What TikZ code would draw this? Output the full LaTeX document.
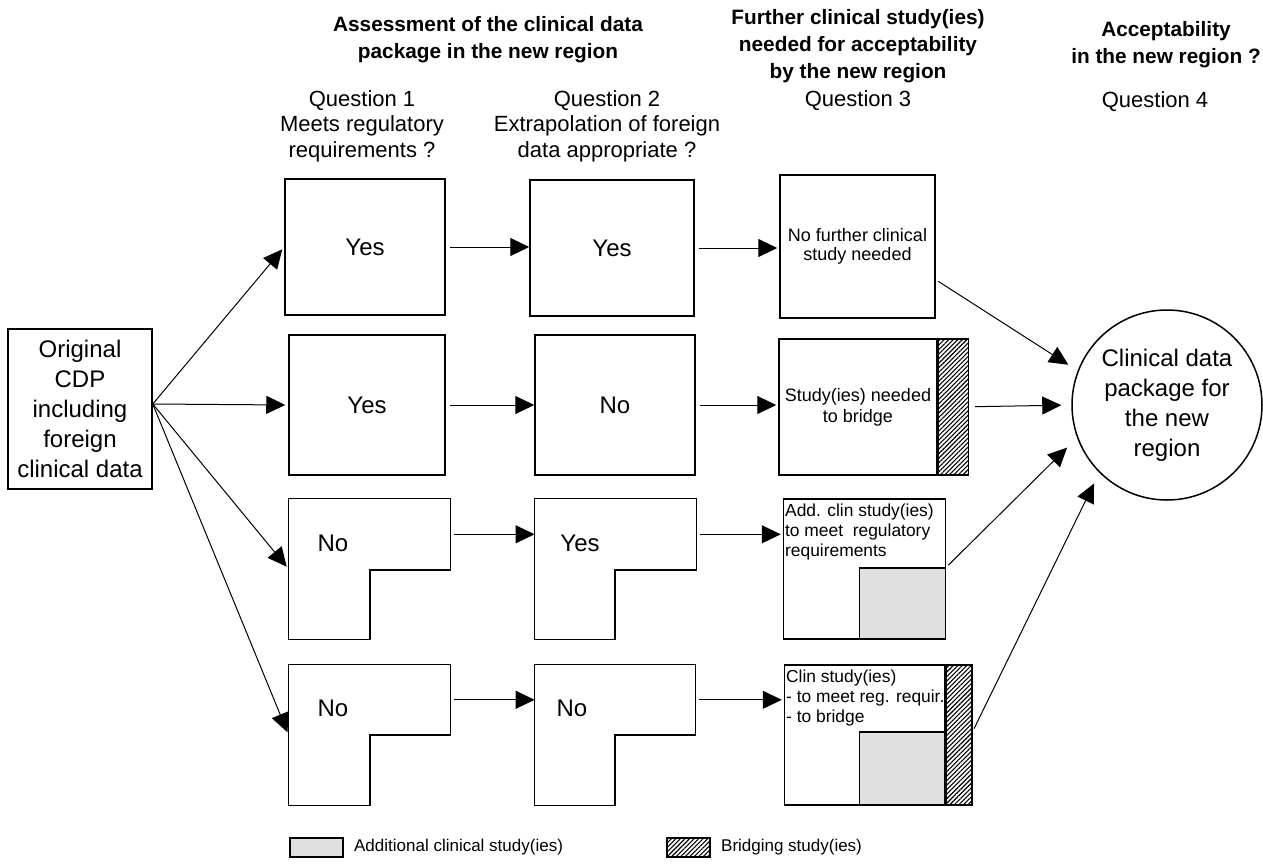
\documentclass[tikz,border=0pt]{standalone}
\usepackage{fontspec}
\setmainfont{Liberation Sans}
\usetikzlibrary{calc, positioning, arrows.meta, patterns.meta}

\definecolor{addgray}{gray}{0.88}

\tikzset{
    box/.style 2 args={
        draw, line width=0.75pt,
        minimum width=#1, minimum height=#2,
        inner sep=0pt, align=center,
        font=\fontsize{12}{15}\selectfont
    },
    lbox/.style 2 args={minimum width=#1, minimum height=#2, inner sep=0pt},
    outline/.style={line width=0.75pt, line join=miter},
    addbox/.style={draw, line width=0.75pt, fill=addgray, inner sep=0pt},
    bridgebox/.style={
        draw, line width=0.75pt, inner sep=0pt,
        pattern={Lines[angle=45, distance=1.6pt, line width=0.55pt]}
    },
    answer/.style={inner sep=0pt, font=\fontsize{12}{15}\selectfont},
    heading/.style={inner sep=0pt, align=center, font=\bfseries\fontsize{10.4}{13.5}\selectfont},
    question/.style={inner sep=0pt, align=center, font=\fontsize{11}{12.75}\selectfont},
    note/.style={inner sep=0pt, align=left, font=\fontsize{8.7}{10}\selectfont},
    legend/.style={inner sep=0pt, font=\fontsize{8.5}{10}\selectfont},
    link/.style={line width=0.5pt, -{Triangle[length=9.5pt, width=9pt]}},
}

\begin{document}
\begin{tikzpicture}[x=0.5pt, y=-0.5pt]
    \useasboundingbox (0,0) rectangle (1263,863);

    % column headings
    \node[heading] (headAssess) at (488,40) {Assessment of the clinical data\\package in the new region};
    \node[heading] (headFurther) at (858,46) {Further clinical study(ies)\\needed for acceptability\\by the new region};
    \node[heading] (headAccept) at (1166,44.5) {Acceptability\\in the new region ?};
    \node[question] (q1) at (362,126) {Question 1\\Meets regulatory\\requirements ?};
    \node[question] (q2) at (607,126) {Question 2\\Extrapolation of foreign\\data appropriate ?};
    \node[question] (q3) at (858,101) {Question 3};
    \node[question] (q4) at (1155,102) {Question 4};

    % original package
    \node[box={72pt}{80pt}] (orig) at (80,409) {Original\\CDP\\including\\foreign\\clinical data};
    \coordinate (fan) at ([yshift=2.5pt]orig.east);

    % question 1
    \node[box={80pt}{68pt}] (yes11) at (365,247) {Yes};
    \node[box={78pt}{70pt}] (yes12) at (367,405) {Yes};
    \node[lbox={80.5pt}{70pt}] (no13) at (369.5,569) {};
    \node[lbox={80.5pt}{70pt}] (no14) at (369.5,735) {};
    \coordinate (no13-notch) at (370,570);
    \coordinate (no14-notch) at (370,735);
    \node[answer] (no13txt) at (333,543) {No};
    \node[answer] (no14txt) at (333,708) {No};

    % question 2
    \node[box={82pt}{68pt}] (yes21) at (612,248) {Yes};
    \node[box={80pt}{70pt}] (no22) at (615,405) {No};
    \node[lbox={80.5pt}{70pt}] (yes23) at (615.5,569) {};
    \node[lbox={80pt}{70pt}] (no24) at (615,735) {};
    \coordinate (yes23-notch) at (615,570);
    \coordinate (no24-notch) at (615,735);
    \node[answer] (yes23txt) at (580,543) {Yes};
    \node[answer] (no24txt) at (572,708) {No};

    % L shaped answers
    \foreach \n in {no13, no14, yes23, no24} {
        \draw[outline] (\n.north west) -- (\n.north east) -- (\n.east |- \n-notch)
            -- (\n-notch) -- (\n-notch |- \n.south) -- (\n.south west) -- cycle;
        \coordinate (\n-arm) at ($(\n.north east)!0.5!(\n.east |- \n-notch)$);
    }

    % question 3
    \node[box={77.5pt}{71.5pt}, font=\fontsize{9}{9.5}\selectfont] (none31) at (857.5,246.5) {No further clinical\\study needed};
    \node[box={79pt}{68pt}, font=\fontsize{9}{10.5}\selectfont] (need32) at (858,407) {Study(ies) needed\\to bridge};
    \node[bridgebox, minimum width=15pt, minimum height=68pt, anchor=north west] (bridge32) at (need32.north east) {};

    \node[box={81pt}{70pt}] (add33) at (864.5,569) {};
    \node[addbox, minimum width=43pt, minimum height=35.5pt, anchor=south east] (extra33) at (add33.south east) {};
    \node[note, anchor=north west] (add33txt) at ([xshift=1pt, yshift=-2.5pt]add33.north west)
        {Add. clin study(ies)\\to meet\ \ regulatory\\requirements};

    \node[box={80pt}{70pt}] (add34) at (864.5,735) {};
    \node[addbox, minimum width=42.5pt, minimum height=36.5pt, anchor=south east] (extra34) at (add34.south east) {};
    \node[bridgebox, minimum width=13pt, minimum height=70pt, anchor=north west] (bridge34) at (add34.north east) {};
    \node[note, anchor=north west] (add34txt) at ([xshift=1pt, yshift=-2.5pt]add34.north west)
        {Clin study(ies)\\- to meet reg. requir.\\- to bridge};

    % question 4
    \node[circle, draw, line width=0.75pt, minimum size=95pt, inner sep=0pt, align=center,
        font=\fontsize{12}{15}\selectfont] (cdp) at (1167,405) {Clinical data\\package for\\the new\\region};

    % fan out of the original package
    \foreach \n in {yes11, yes12, no13, no14}
        \draw[link, shorten >=1.5pt] (fan) -- (\n.west);

    % question 1 to question 2
    \draw[link, shorten <=2pt] (yes11.east) -- (yes21.west |- yes11.east);
    \draw[link, shorten <=2pt] (yes12.east) -- (no22.west |- yes12.east);
    \draw[link, shorten <=2pt] (no13-arm) -- (yes23.west |- no13-arm);
    \draw[link, shorten <=2pt] (no14-arm) -- (no24.west |- no14-arm);

    % question 2 to question 3
    \draw[link, shorten <=2pt, shorten >=1pt] (yes21.east) -- (none31.west |- yes21.east);
    \draw[link, shorten <=2pt, shorten >=1pt] (no22.east) -- (need32.west |- no22.east);
    \draw[link, shorten <=2pt, shorten >=1pt] (yes23-arm) -- (add33.west |- yes23-arm);
    \draw[link, shorten <=2pt, shorten >=1pt] (no24-arm) -- (add34.west |- no24-arm);

    % question 3 to the package
    \draw[link, shorten <=1.5pt, shorten >=5.5pt] ($(none31.north east)!0.73!(none31.south east)$) -- (cdp.159);
    \draw[link, shorten <=3pt, shorten >=5pt] (bridge32.east) -- (cdp.west);
    \draw[link, shorten <=1.5pt, shorten >=7pt] (extra33.north east) -- (cdp.200);
    \draw[link, shorten <=1.5pt, shorten >=6pt] (bridge34.east |- extra34.north) -- (cdp.225);

    % legend
    \node[addbox, minimum width=26.5pt, minimum height=9.5pt] (keyAdd) at (316.5,847.5) {};
    \node[legend, right=5pt of keyAdd] (keyAddTxt) {Additional clinical study(ies)};
    \node[bridgebox, minimum width=21.5pt, minimum height=9.5pt] (keyBridge) at (688.5,847.5) {};
    \node[legend, right=5pt of keyBridge] (keyBridgeTxt) {Bridging study(ies)};
\end{tikzpicture}
\end{document}
